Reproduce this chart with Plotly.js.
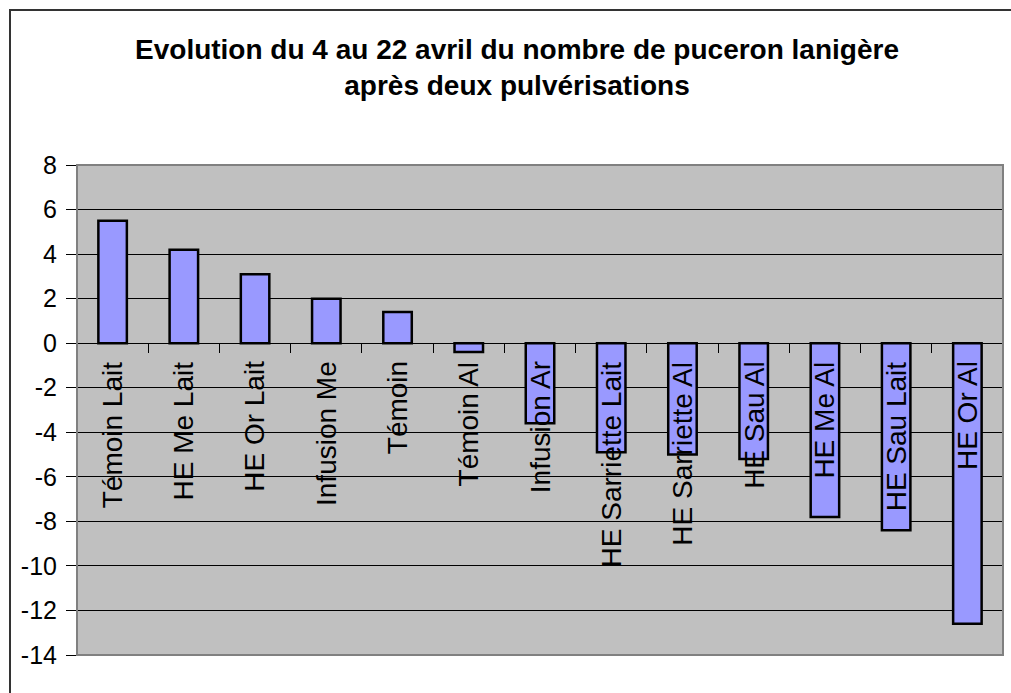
<!DOCTYPE html>
<html>
<head>
<meta charset="utf-8">
<script src="https://cdn.plot.ly/plotly-3.0.1.min.js"></script>
<style>
  html, body { margin: 0; padding: 0; background: #fff; }
  #wrap { position: relative; width: 1011px; height: 693px; overflow: hidden; }
  #chart { width: 1011px; height: 693px; }
  #frame { position: absolute; left: 9px; top: 9px; width: 1100px; height: 800px;
           border-left: 2px solid #333; border-top: 2px solid #333; pointer-events: none; }
</style>
</head>
<body>
<div id="wrap">
  <div id="chart"></div>
  <div id="frame"></div>
</div>
<script>
const categories = ["Témoin Lait", "HE Me Lait", "HE Or Lait", "Infusion Me", "Témoin",
  "Témoin Al", "Infusion Ar", "HE Sarriette Lait", "HE Sarriette Al", "HE Sau Al",
  "HE Me Al", "HE Sau Lait", "HE Or Al"];
const values = [5.5, 4.2, 3.1, 2.0, 1.4, -0.4, -3.6, -4.9, -5.0, -5.2, -7.8, -8.4, -12.6];
const yTicks = [-14, -12, -10, -8, -6, -4, -2, 0, 2, 4, 6, 8];
const titleText = "Evolution du 4 au 22 avril du nombre de puceron lanigère<br>après deux pulvérisations";

const FONT = "Liberation Sans, Arial, sans-serif";
const yMin = -14, yMax = 8;

const trace = {
  type: "bar",
  x: categories,
  y: values,
  width: 0.4,
  marker: { color: "#9999FF", line: { color: "#000000", width: 2.5 } },
  hoverinfo: "x+y"
};

const annotations = categories.map(c => ({
  x: c, y: 0, xref: "x", yref: "y",
  text: c, textangle: -90, showarrow: false,
  xanchor: "center", yanchor: "top", yshift: -16,
  font: { family: FONT, size: 28, color: "#000" }
}));

const layout = {
  width: 1011, height: 693,
  margin: { l: 77, r: 8, t: 165, b: 38, pad: 0 },
  paper_bgcolor: "#ffffff",
  plot_bgcolor: "#C0C0C0",
  showlegend: false,
  title: {
    text: titleText,
    font: { family: FONT, size: 28, color: "#000", weight: "bold" },
    xref: "container", x: 517 / 1011, xanchor: "center",
    yref: "container", y: 1 - 59 / 693, yanchor: "top"
  },
  xaxis: {
    type: "category",
    range: [-0.5, categories.length - 0.5],
    anchor: "free",
    position: (0 - yMin) / (yMax - yMin),
    showline: true, linecolor: "#000", linewidth: 1,
    ticks: "outside", ticklen: 9, tickcolor: "#000", tickwidth: 1,
    tickson: "boundaries",
    showticklabels: false,
    showgrid: false, zeroline: false, fixedrange: true
  },
  yaxis: {
    range: [yMin, yMax],
    tickvals: yTicks,
    ticktext: yTicks.map(String),
    showgrid: true, gridcolor: "#000", gridwidth: 1,
    zeroline: false,
    showline: false,
    ticks: "outside", ticklen: 10, tickcolor: "#000", tickwidth: 1,
    ticklabelstandoff: 4,
    tickfont: { family: FONT, size: 25, color: "#000" },
    fixedrange: true
  },
  shapes: [{
    type: "rect", xref: "paper", yref: "paper", x0: 0, x1: 1, y0: 0, y1: 1,
    line: { color: "#808080", width: 2 }, fillcolor: "rgba(0,0,0,0)", layer: "above"
  }],
  annotations: annotations
};

Plotly.newPlot("chart", [trace], layout, { displayModeBar: false, staticPlot: true });
</script>
</body>
</html>
